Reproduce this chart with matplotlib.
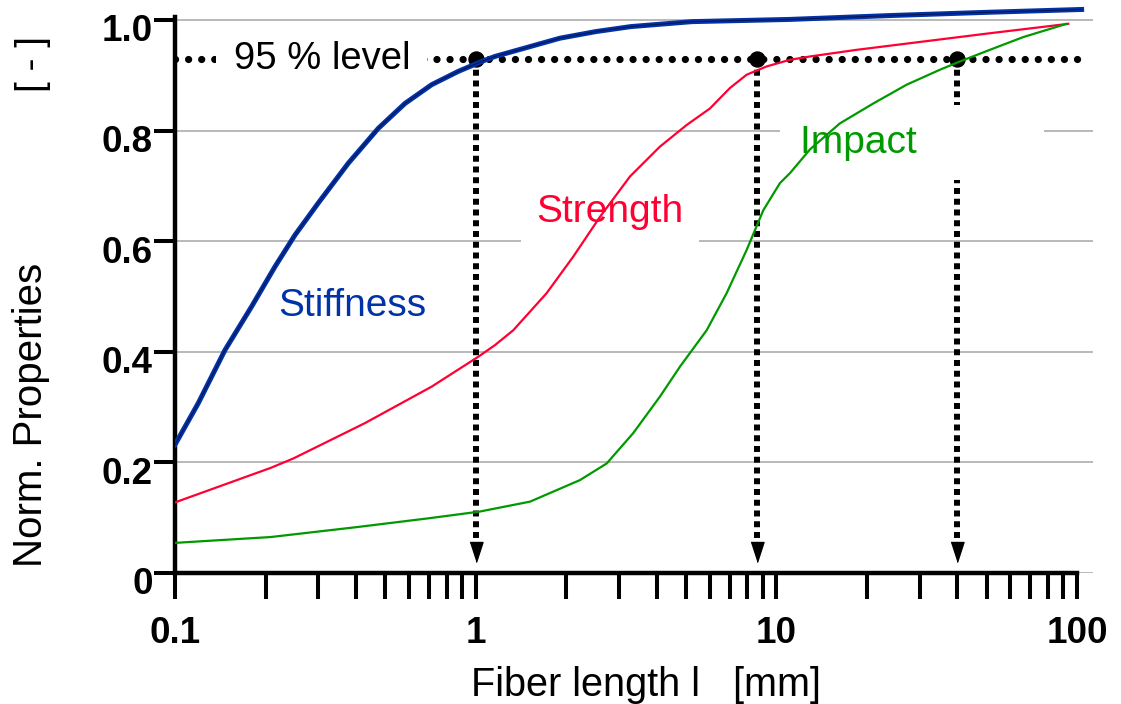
import matplotlib
matplotlib.use("Agg")
import matplotlib.pyplot as plt
import numpy as np
from matplotlib.ticker import LogLocator, NullFormatter
from matplotlib.transforms import ScaledTranslation

plt.rcParams["font.family"] = ["Liberation Sans", "DejaVu Sans"]

# fiber length [mm] vs normalised property
stiffness_x = [0.1, 0.1195, 0.1466, 0.1799, 0.2151, 0.2506, 0.2996, 0.3771, 0.4744,
               0.5818, 0.7141, 0.875, 1.047, 1.159, 1.905, 2.51, 3.28, 5.24, 11.1, 23.9,
               51.3, 103.6]
stiffness_y = [0.232, 0.307, 0.403, 0.482, 0.554, 0.611, 0.669, 0.741, 0.804,
               0.849, 0.883, 0.907, 0.925, 0.934, 0.967, 0.979, 0.988, 0.997, 1.001, 1.008,
               1.014, 1.019]

strength_x = [0.097, 0.208, 0.2474, 0.4283, 0.7141, 1.02, 1.159, 1.334, 1.722, 2.111, 2.591,
              3.26, 4.101, 5.029, 6.015, 7.011, 7.965, 9.284, 11.1, 12.94, 18.5, 30.8, 51.3,
              93.5]
strength_y = [0.125, 0.190, 0.207, 0.271, 0.337, 0.391, 0.412, 0.439, 0.506, 0.572, 0.644,
              0.717, 0.771, 0.810, 0.840, 0.877, 0.901, 0.916, 0.928, 0.934, 0.946, 0.961, 0.976,
              0.993]

impact_x = [0.097, 0.208, 0.403, 0.70, 1.03, 1.516, 2.223, 2.727, 3.343, 4.101, 4.779, 5.866,
            6.834, 7.965, 9.05, 10.28, 11.1, 12.94, 16.27, 21.01, 27.13, 35.0, 40.8, 51.3,
            66.2, 92.3]
impact_y = [0.054, 0.065, 0.083, 0.099, 0.111, 0.129, 0.168, 0.198, 0.253, 0.319, 0.373, 0.439,
            0.506, 0.584, 0.656, 0.705, 0.723, 0.766, 0.813, 0.849, 0.883, 0.910, 0.925, 0.946,
            0.969, 0.993]

level = 0.93
level_span = [0.1, 105]
arrow_x = [1.0, 8.6, 40.0]
arrow_tail_end = 0.052
arrow_head_y = 0.038

x_ticks = [0.1, 1, 10, 100]
x_tick_labels = ["0.1", "1", "10", "100"]
y_ticks = [0, 0.2, 0.4, 0.6, 0.8, 1.0]
y_tick_labels = ["0", "0.2", "0.4", "0.6", "0.8", "1.0"]

BLUE = "#0033a8"
RED = "#ff0033"
GREEN = "#009900"

fig = plt.figure(figsize=(11.21, 7.04), dpi=100)
ax = fig.add_axes([0.1561, 0.1861, 0.8189, 0.8091])
ax.set_xscale("log")
ax.set_xlim(0.1, 113)
ax.set_ylim(0, 1.03)

for side in ("top", "right"):
    ax.spines[side].set_visible(False)
for side in ("left", "bottom"):
    ax.spines[side].set_linewidth(3.2)
ax.spines["left"].set_bounds(0, 1.005)
ax.spines["bottom"].set_bounds(0.1, 100)

ax.set_yticks(y_ticks)
ax.set_yticklabels(y_tick_labels)
ax.set_xticks(x_ticks)
ax.set_xticklabels(x_tick_labels)
ax.xaxis.set_minor_locator(LogLocator(base=10, subs=np.arange(2, 10)))
ax.xaxis.set_minor_formatter(NullFormatter())
ax.tick_params(axis="y", direction="out", length=15, width=2.9, pad=1, labelsize=26.5)
ax.tick_params(axis="x", which="both", direction="out", length=19, width=2.9, pad=12, labelsize=26.5)
shift = ScaledTranslation(0, -0.08, fig.dpi_scale_trans)
for lbl in ax.get_yticklabels():
    lbl.set_fontweight("bold")
    lbl.set_transform(lbl.get_transform() + shift)
for lbl in ax.get_xticklabels():
    lbl.set_fontweight("bold")

ax.yaxis.grid(True, color="#a6a6a6", linewidth=1.1)
ax.set_axisbelow(True)

# 95 % level and the arrows down to the fiber length axis
ax.plot(level_span, [level, level], color="black", lw=5.2, linestyle=(0, (0.01, 1.8)),
        dash_capstyle="round", zorder=2)
head = [(-0.65, 1), (0.65, 1), (0, -1)]
for x in arrow_x:
    ax.plot([x, x], [level, arrow_tail_end], color="black", lw=4.3,
            linestyle=(0, (1, 0.8)), zorder=2)
    ax.plot([x], [arrow_head_y], marker=head, ms=14.4, color="black", lw=0, zorder=2)
ax.plot(arrow_x, [level] * len(arrow_x), "o", ms=10.8, color="black", zorder=2)

ax.text(0.308, level, "95 % level", fontsize=27.5, ha="center", va="center",
        bbox=dict(boxstyle="square,pad=0.45", fc="white", ec="none"), zorder=2.5)
ax.text(2.80, 0.653, "Strength", color=RED, fontsize=28, ha="center", va="center",
        bbox=dict(boxstyle="square,pad=0.4", fc="white", ec="none"), zorder=2.5)
ax.text(11.97, 0.778, "Impact          ", color=GREEN, fontsize=28, ha="left", va="center",
        bbox=dict(boxstyle="square,pad=0.5", fc="white", ec="none"), zorder=2.5)
ax.text(0.388, 0.482, "Stiffness", color=BLUE, fontsize=28, ha="center", va="center", zorder=4)

ax.plot(stiffness_x, stiffness_y, color=BLUE, lw=3.6, zorder=3)
ax.plot(stiffness_x, stiffness_y, color="#0a1450", lw=0.8, zorder=3.1)
ax.plot(strength_x, strength_y, color=RED, lw=1.6, zorder=3)
ax.plot(impact_x, impact_y, color=GREEN, lw=1.6, zorder=3)

fig.text(0.576, 0.027, "Fiber length l   [mm]", fontsize=28.5, ha="center", va="center")
fig.text(0.0277, 0.4105, "Norm. Properties", fontsize=29, rotation=90, ha="center", va="center")
fig.text(0.029, 0.909, "[ - ]", fontsize=28, rotation=90, ha="center", va="center")

fig.savefig("out.png", dpi=100)
